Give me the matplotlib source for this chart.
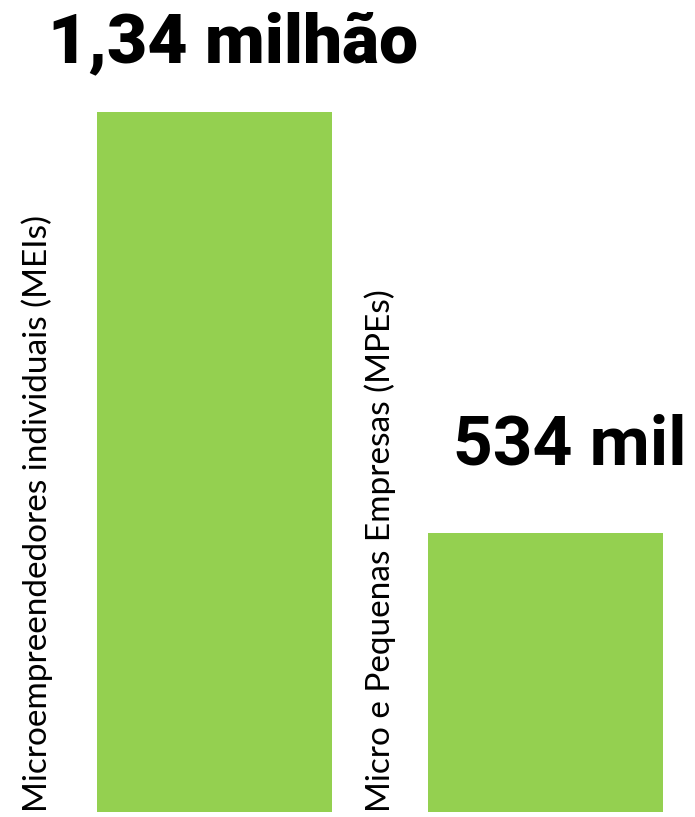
import matplotlib
matplotlib.use('Agg')
import matplotlib.pyplot as plt

# Data
categories = ['Microempreendedores individuais (MEIs)', 'Micro e Pequenas Empresas (MPEs)']
values = [1.34, 0.534]  # milhões
value_labels = ['1,34 milhão', '534 mil']
bar_color = '#94D050'

fig = plt.figure(figsize=(6.95, 8.17), dpi=100)
ax = fig.add_axes([0, 5 / 817, 1, 812 / 817])

x = list(range(len(values)))
ax.bar(x, values, width=0.71, color=bar_color)

ax.set_xlim(-0.648, 1.452)
ax.set_ylim(0, 1.554)
ax.axis('off')

# Value labels above bars
ax.text(x[0] + 0.055, values[0] + 0.067, value_labels[0], ha='center', va='bottom',
        fontsize=50, fontweight='black', family='Roboto', color='black')
ax.text(x[1] + 0.075, values[1] + 0.105, value_labels[1], ha='center', va='bottom',
        fontsize=50, fontweight='bold', family='Roboto', color='black')

# Rotated category labels to the left of each bar
label_offsets = [-0.535, -0.50]
for xi, cat, off in zip(x, categories, label_offsets):
    ax.text(xi + off, 0, cat, rotation=90, ha='center', va='bottom',
            fontsize=24, fontweight='normal', family='Lato', color='black')

fig.savefig('out.png', dpi=100)
